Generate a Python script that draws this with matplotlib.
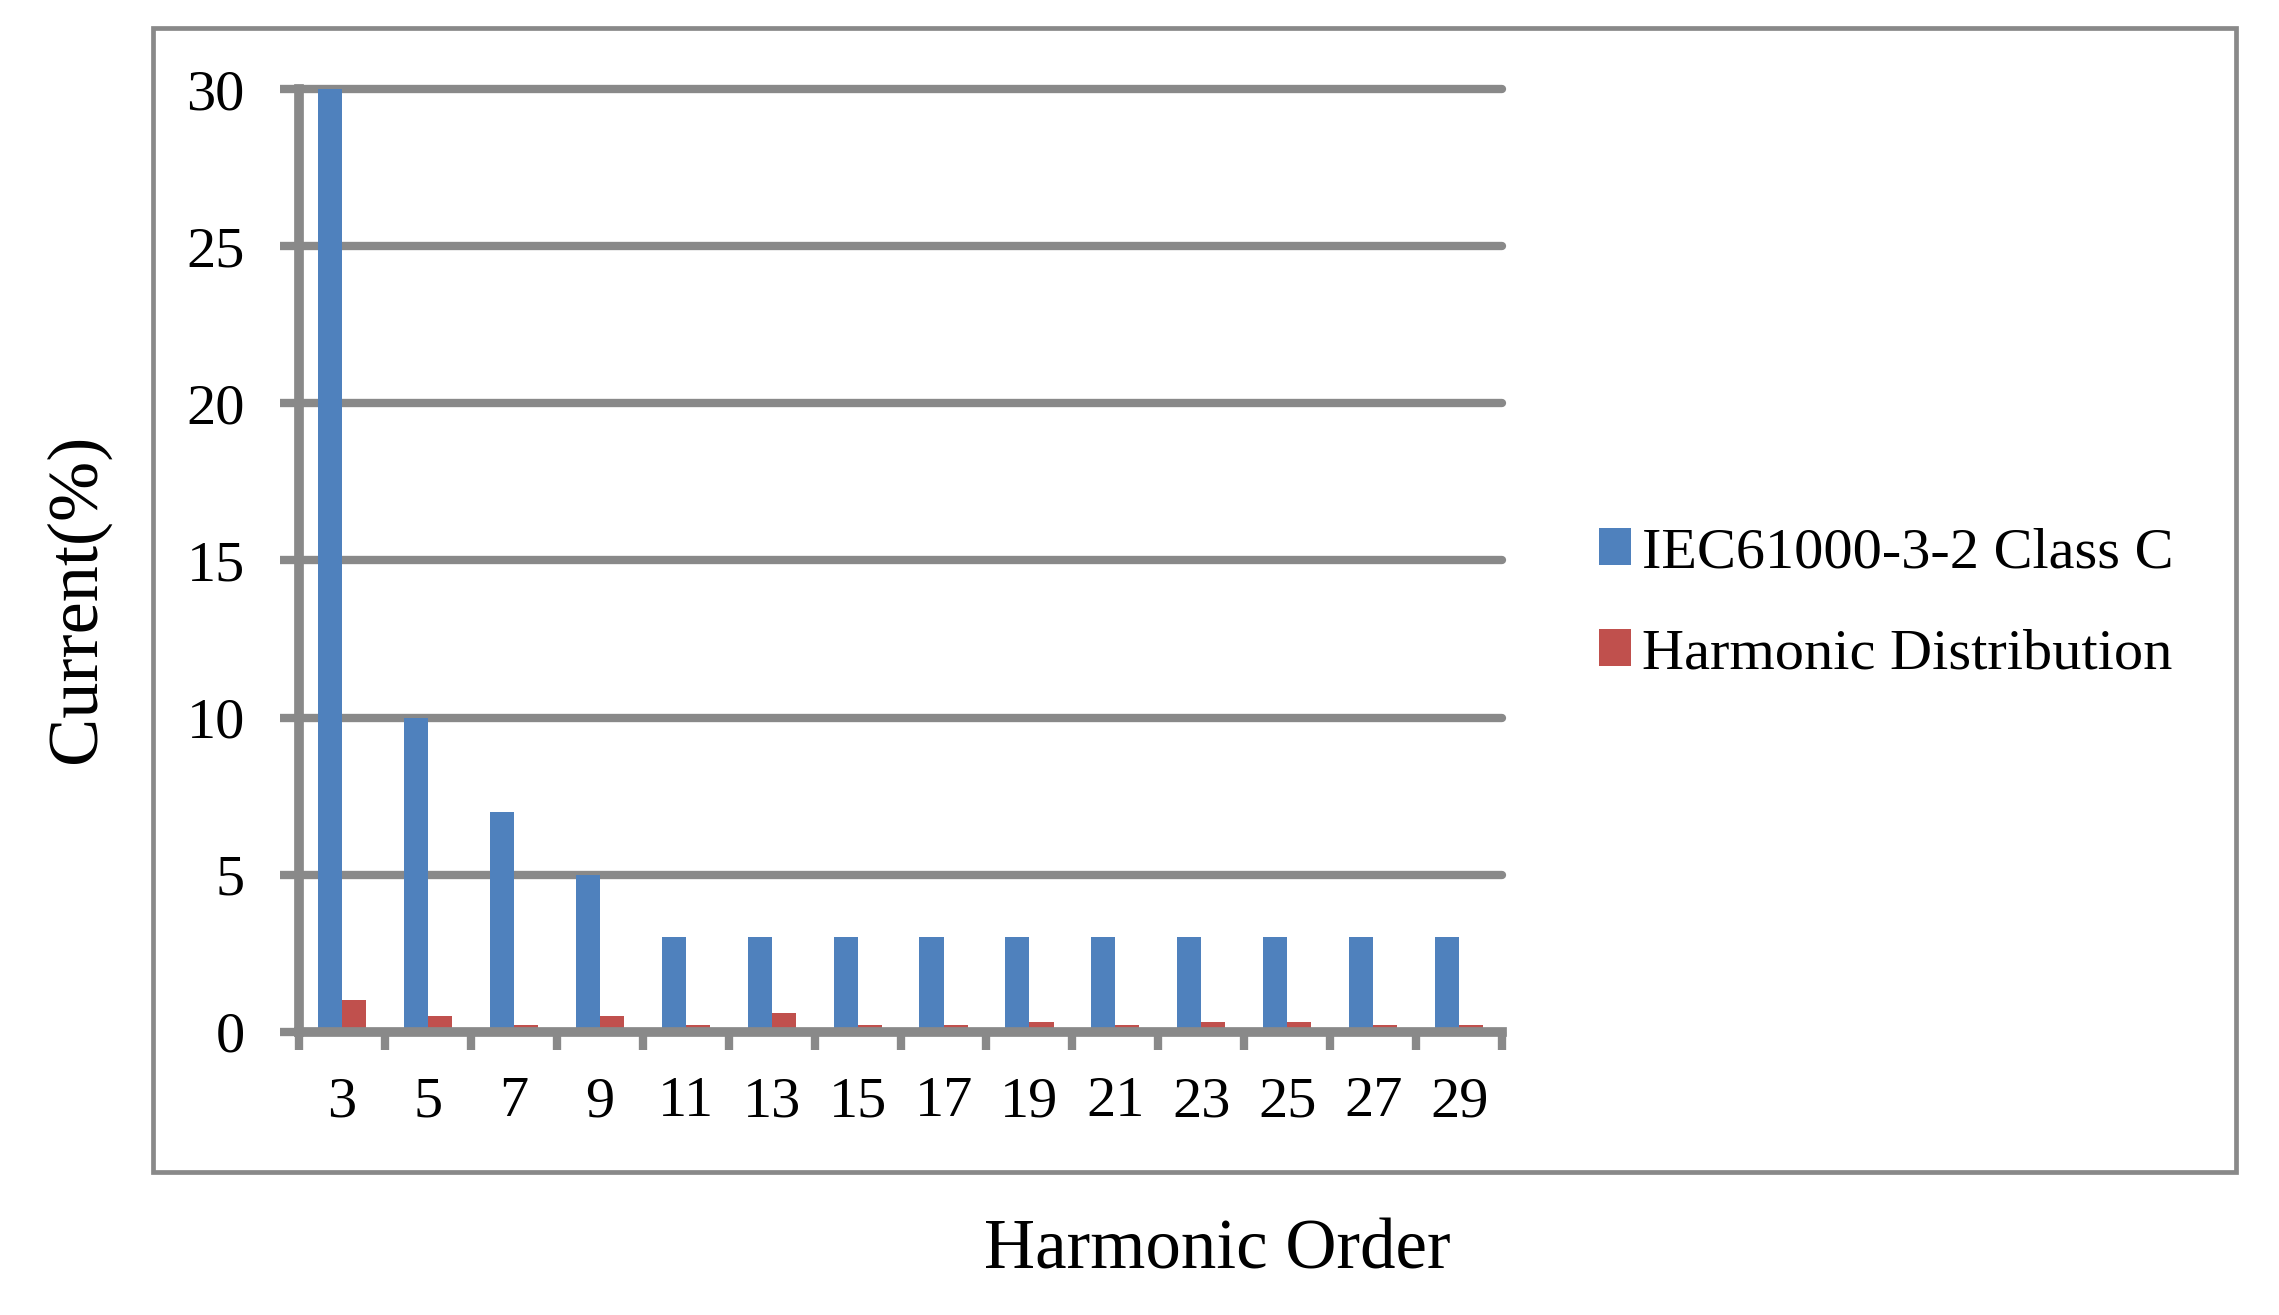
import matplotlib
matplotlib.use('Agg')
import matplotlib.pyplot as plt
from matplotlib.patches import Rectangle
import numpy as np

plt.rcParams['font.family'] = ['Liberation Serif', 'DejaVu Serif']

# harmonic orders and current limits / measured values (% of fundamental)
orders = ['3', '5', '7', '9', '11', '13', '15', '17', '19', '21', '23', '25', '27', '29']
iec_limit = [30, 10, 7, 5, 3, 3, 3, 3, 3, 3, 3, 3, 3, 3]
harmonic_dist = [1.0, 0.5, 0.2, 0.5, 0.2, 0.6, 0.2, 0.2, 0.3, 0.2, 0.3, 0.3, 0.2, 0.2]
yticks = [0, 5, 10, 15, 20, 25, 30]

grey = '#898989'
blue = '#4F81BD'
red = '#C0504D'

fig = plt.figure(figsize=(22.79, 13.15), dpi=100)
ax = fig.add_axes([0.1312, 0.2154, 0.5279, 0.7169])

x = np.arange(len(orders))
w = 0.28
ax.bar(x - w / 2, iec_limit, w, color=blue, label='IEC61000-3-2 Class C', zorder=3)
ax.bar(x + w / 2, harmonic_dist, w, color=red, label='Harmonic Distribution', zorder=3)

ax.set_xlim(-0.5, len(orders) - 0.5)
ax.set_ylim(0, 30)

# grid lines
for yv in yticks[1:]:
    ax.axhline(yv, color=grey, lw=6, solid_capstyle='round', zorder=1, clip_on=False)

for s in ['top', 'right']:
    ax.spines[s].set_visible(False)
for s in ['left', 'bottom']:
    ax.spines[s].set_color(grey)
    ax.spines[s].set_linewidth(7)
    ax.spines[s].set_zorder(4)

ax.set_yticks(yticks)
ax.tick_params(axis='y', length=14, width=6, color=grey, pad=25, labelsize=42)
ax.set_xticks(x)
ax.set_xticklabels(orders)
ax.tick_params(axis='x', which='major', length=0, pad=32, labelsize=42)
ax.set_xticks(np.arange(len(orders) + 1) - 0.5, minor=True)
ax.tick_params(axis='x', which='minor', length=13, width=6, color=grey)

# outer chart border
fig.patches.append(Rectangle((0.0671, 0.1091), 0.914, 0.8694, transform=fig.transFigure,
                             fill=False, edgecolor=grey, lw=3.4, zorder=0))

fig.text(0.034, 0.545, 'Current(%)', rotation=90, ha='center', va='center', fontsize=52)
fig.text(0.534, 0.035, 'Harmonic Order', ha='center', va='baseline', fontsize=51)

fig.legend(loc='center left', bbox_to_anchor=(0.7015, 0.541), frameon=False, fontsize=42,
           handlelength=0.55, handleheight=0.6, handletextpad=0.2, labelspacing=0.84,
           borderpad=0, borderaxespad=0)

fig.savefig('out.png', dpi=100)
